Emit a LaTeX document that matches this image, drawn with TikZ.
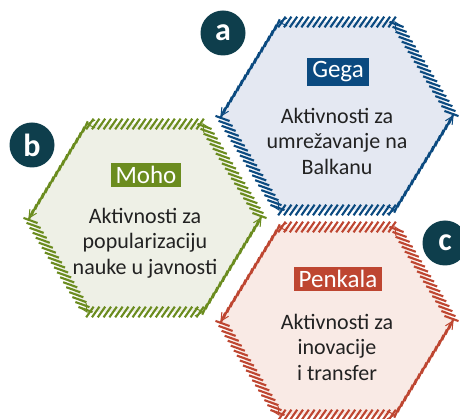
\documentclass[tikz,border=0pt]{standalone}
\usepackage{fontspec}
\setmainfont{Carlito}
\usetikzlibrary{calc}
\definecolor{gblue}{HTML}{0B4A80}
\definecolor{gfill}{HTML}{E4E8F2}
\definecolor{mgreen}{HTML}{6B8C1F}
\definecolor{mfill}{HTML}{EEF0E6}
\definecolor{pred}{HTML}{BE4631}
\definecolor{pfill}{HTML}{F9EAE5}
\definecolor{circ}{HTML}{0E3E4C}
\definecolor{txt}{HTML}{222222}
\tikzset{
  hatchline/.style={line width=2.1pt},
  barb/.style={line width=1pt},
  tagbox/.style={text=white, font=\fontsize{25}{28}\selectfont, inner xsep=5pt, inner ysep=3.5pt},
  bodytext/.style={align=center, text=txt, font=\fontsize{22}{25.5}\selectfont},
  letter/.style={circle, fill=circ, text=white, minimum size=45pt, inner sep=0pt, font=\fontsize{32}{32}\selectfont\bfseries},
}
% #1 A, #2 B, #3 visual angle, #4 stroke length, #5 count
\newcommand\hatchedge[5]{%
  \pgfmathsetmacro\hang{-(#3)}%
  \pgfmathsetmacro\hangb{-(#3)+180}%
  \pgfmathsetmacro\hlen{(#4)/2}%
  \foreach \k in {1,...,#5}{%
    \pgfmathsetmacro\hpos{(\k-0.5)/#5}%
    \draw[hatchline] ($(#1)!\hpos!(#2)+(\hang:\hlen)$) -- ($(#1)!\hpos!(#2)+(\hangb:\hlen)$);
  }}
% #1 prefix, #2 cx, #3 cy
\newcommand\hexpts[3]{%
  \coordinate (#1L) at (#2-116,#3);
  \coordinate (#1TL) at (#2-58,#3-94);
  \coordinate (#1TR) at (#2+58,#3-94);
  \coordinate (#1R) at (#2+116,#3);
  \coordinate (#1BR) at (#2+58,#3+94);
  \coordinate (#1BL) at (#2-58,#3+94);
}
% arrowhead at vertex #1 for an edge coming from #2
\newcommand\barbs[2]{%
  \draw[barb] ($(#1)!9pt!26:(#2)$) -- (#1) -- ($(#1)!9pt!-26:(#2)$);
}
\newcommand\hexhatch[1]{%
  \hatchedge{#1TL}{#1TR}{55}{13}{20}
  \hatchedge{#1BL}{#1BR}{55}{13}{20}
  \hatchedge{#1TR}{#1R}{-20}{15}{19}
  \hatchedge{#1L}{#1BL}{-20}{15}{19}
  \hatchedge{#1L}{#1TL}{66}{12}{17}
  \hatchedge{#1BR}{#1R}{66}{12}{17}
  \barbs{#1TL}{#1TR}
  \barbs{#1L}{#1TL}
  \barbs{#1BL}{#1L}
  \barbs{#1BR}{#1BL}
  \barbs{#1R}{#1BR}
  \barbs{#1TR}{#1R}
}
\begin{document}
\begin{tikzpicture}[x=1pt,y=-1pt]
\useasboundingbox (0,0) rectangle (460,419);
\clip (0,0) rectangle (460,419);
\hexpts{g}{337}{116}
\hexpts{m}{145}{218}
\hexpts{p}{337}{321}
\fill[gfill] (gL)--(gTL)--(gTR)--(gR)--(gBR)--(gBL)--cycle;
\fill[mfill] (mL)--(mTL)--(mTR)--(mR)--(mBR)--(mBL)--cycle;
\fill[pfill] (pL)--(pTL)--(pTR)--(pR)--(pBR)--(pBL)--cycle;
\begin{scope}[draw=gblue]\hexhatch{g}\end{scope}
\begin{scope}[draw=mgreen]\hexhatch{m}\end{scope}
\begin{scope}[draw=pred]\hexhatch{p}\end{scope}
\node[tagbox, fill=gblue] (gtag) at (338,72) {Gega};
\node[tagbox, fill=mgreen] (mtag) at (146,175) {Moho};
\node[tagbox, fill=pred] (ptag) at (338,279) {Penkala};
\node[bodytext] (gtext) at (337,141) {Aktivnosti za\\umrežavanje na\\Balkanu};
\node[bodytext] (mtext) at (145,243) {Aktivnosti za\\popularizaciju\\nauke u javnosti};
\node[bodytext] (ptext) at (337,347) {Aktivnosti za\\inovacije\\i transfer};
\node[letter] (la) at (223,33) {a};
\node[letter] (lb) at (32,145) {b};
\node[letter] (lc) at (445,243) {c};
\end{tikzpicture}
\end{document}
